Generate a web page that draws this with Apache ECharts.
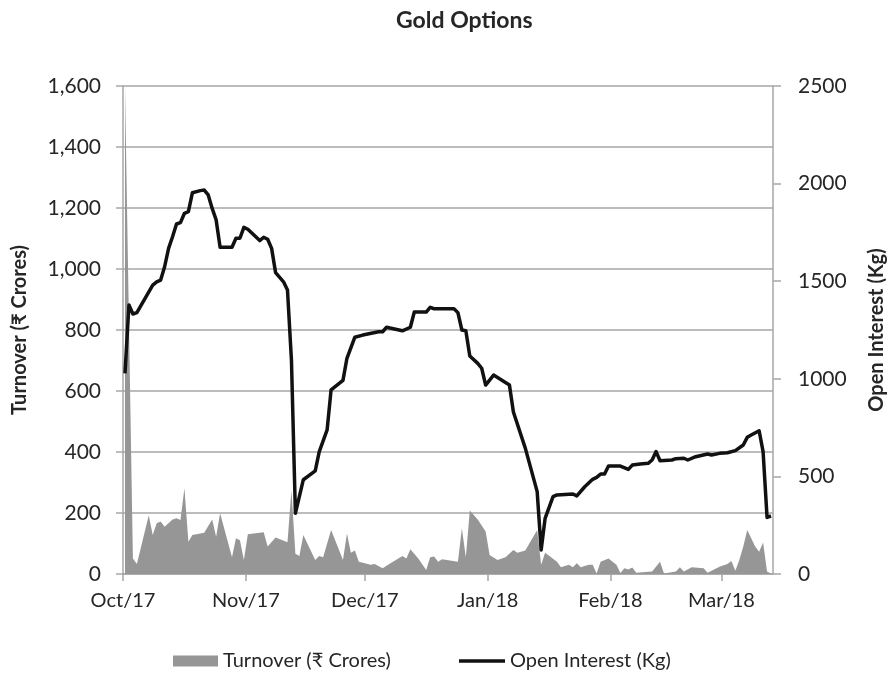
<!DOCTYPE html>
<html>
<head>
<meta charset="utf-8">
<script src="https://cdn.jsdelivr.net/npm/echarts@6/dist/echarts.min.js"></script>
<style>
  html, body { margin: 0; padding: 0; background: #fff; }
  #chart { width: 895px; height: 675px; }
</style>
</head>
<body>
<div id="chart"></div>
<script>
// open interest (Kg), right axis
var oiDates = [
  '2017-10-03','2017-10-04','2017-10-05','2017-10-06','2017-10-10','2017-10-11','2017-10-12','2017-10-13',
  '2017-10-14','2017-10-15','2017-10-16','2017-10-17','2017-10-18','2017-10-19','2017-10-20','2017-10-22',
  '2017-10-23','2017-10-24','2017-10-25','2017-10-26','2017-10-27','2017-10-30','2017-10-31','2017-11-01',
  '2017-11-02','2017-11-03','2017-11-06','2017-11-07','2017-11-08','2017-11-09','2017-11-10','2017-11-12',
  '2017-11-13','2017-11-14','2017-11-15','2017-11-17','2017-11-20','2017-11-21','2017-11-23','2017-11-24',
  '2017-11-27','2017-11-28','2017-11-30','2017-12-02','2017-12-06','2017-12-07','2017-12-08','2017-12-10',
  '2017-12-12','2017-12-14','2017-12-15','2017-12-18','2017-12-19','2017-12-20','2017-12-25','2017-12-26',
  '2017-12-27','2017-12-28','2017-12-29','2017-12-31','2018-01-01','2018-01-02','2018-01-04','2018-01-08',
  '2018-01-09','2018-01-12','2018-01-15','2018-01-16','2018-01-17','2018-01-19','2018-01-20','2018-01-24',
  '2018-01-25','2018-01-27','2018-01-29','2018-01-30','2018-01-31','2018-02-01','2018-02-02','2018-02-05',
  '2018-02-07','2018-02-08','2018-02-10','2018-02-12','2018-02-13','2018-02-14','2018-02-15','2018-02-18',
  '2018-02-19','2018-02-21','2018-02-22','2018-02-24','2018-02-27','2018-02-28','2018-03-02','2018-03-04',
  '2018-03-06','2018-03-08','2018-03-09','2018-03-10','2018-03-12','2018-03-13','2018-03-14','2018-03-15'
];
var oiValues = [
  1028, 1378, 1332, 1339, 1480, 1497, 1506, 1574,
  1668, 1728, 1793, 1800, 1848, 1856, 1953, 1964,
  1967, 1942, 1873, 1814, 1674, 1674, 1720, 1720,
  1776, 1766, 1708, 1725, 1715, 1668, 1544, 1497,
  1455, 1096, 311, 483, 528, 626, 738, 943,
  992, 1105, 1213, 1224, 1241, 1241, 1264, 1255,
  1246, 1264, 1342, 1342, 1366, 1359, 1359, 1339,
  1250, 1246, 1117, 1079, 1054, 968, 1019, 968,
  830, 645, 422, 123, 285, 396, 405, 410,
  400, 447, 485, 495, 512, 512, 553, 553,
  536, 558, 563, 567, 584, 627, 580, 584,
  591, 593, 584, 601, 615, 610, 618, 621,
  632, 661, 700, 712, 734, 627, 290, 297
];

// turnover (Rs crores), left axis
var tvDates = [
  '2017-10-03','2017-10-05','2017-10-06','2017-10-09','2017-10-10','2017-10-11','2017-10-12','2017-10-13',
  '2017-10-15','2017-10-16','2017-10-17','2017-10-18','2017-10-19','2017-10-20','2017-10-23','2017-10-25',
  '2017-10-26','2017-10-27','2017-10-30','2017-10-31','2017-11-01','2017-11-02','2017-11-03','2017-11-07',
  '2017-11-08','2017-11-10','2017-11-13','2017-11-14','2017-11-15','2017-11-16','2017-11-17','2017-11-20',
  '2017-11-21','2017-11-22','2017-11-24','2017-11-27','2017-11-28','2017-11-29','2017-11-30','2017-12-01',
  '2017-12-04','2017-12-05','2017-12-07','2017-12-09','2017-12-12','2017-12-13','2017-12-14','2017-12-16',
  '2017-12-18','2017-12-19','2017-12-20','2017-12-21','2017-12-22','2017-12-24','2017-12-26','2017-12-27',
  '2017-12-28','2017-12-29','2017-12-31','2018-01-02','2018-01-03','2018-01-05','2018-01-07','2018-01-09',
  '2018-01-10','2018-01-12','2018-01-15','2018-01-16','2018-01-17','2018-01-20','2018-01-21','2018-01-23',
  '2018-01-24','2018-01-25','2018-01-26','2018-01-28','2018-01-29','2018-01-30','2018-01-31','2018-02-02',
  '2018-02-04','2018-02-05','2018-02-06','2018-02-07','2018-02-08','2018-02-09','2018-02-13','2018-02-15',
  '2018-02-16','2018-02-19','2018-02-20','2018-02-21','2018-02-23','2018-02-26','2018-02-27','2018-03-02',
  '2018-03-04','2018-03-05','2018-03-06','2018-03-07','2018-03-08','2018-03-09','2018-03-11','2018-03-12',
  '2018-03-13','2018-03-14','2018-03-15'
];
var tvValues = [
  1600, 51, 33, 193, 128, 166, 172, 155,
  179, 183, 177, 281, 106, 128, 135, 179,
  122, 199, 55, 117, 111, 46, 130, 137,
  90, 120, 104, 275, 66, 59, 128, 46,
  59, 55, 144, 46, 133, 70, 77, 40,
  30, 33, 19, 35, 59, 51, 81, 51,
  13, 55, 57, 40, 48, 44, 40, 150,
  55, 208, 179, 139, 62, 46, 55, 79,
  70, 77, 144, 30, 70, 40, 22, 30,
  22, 35, 22, 30, 30, 2, 40, 51,
  30, 3, 19, 15, 21, 4, 8, 40,
  2, 8, 22, 8, 22, 19, 4, 24,
  33, 43, 11, 46, 90, 144, 90, 73,
  103, 8, 2
];

// month ticks on the date axis
var tickDates = [[2017, 9, 2], [2017, 10, 2], [2017, 11, 2], [2018, 0, 2], [2018, 1, 2], [2018, 2, 2]];
var tickLabels = ['Oct/17', 'Nov/17', 'Dec/17', 'Jan/18', 'Feb/18', 'Mar/18'];

var FONT = 'Lato, "DejaVu Sans", sans-serif';
var GRAY = '#a6a6a6';
var TEXT = '#262626';

var tickValues = tickDates.map(function (d) { return new Date(d[0], d[1], d[2], 12).getTime(); });
var axisMin = tickValues[0];
var axisMax = new Date(2018, 2, 15, 12).getTime();

function toTime(s) {
  var p = s.split('-');
  return new Date(+p[0], +p[1] - 1, +p[2]).getTime();
}
function pairs(dates, values) {
  return dates.map(function (d, i) { return [toTime(d), values[i]]; });
}

var myChart = echarts.init(document.getElementById('chart'));

var legendText = { fontFamily: FONT, fontSize: 20, color: TEXT };

var option = {
  backgroundColor: '#fff',
  animation: false,
  title: {
    text: 'Gold Options',
    left: 391,
    top: 4,
    textStyle: { fontFamily: FONT, fontSize: 23, fontWeight: 'bold', color: TEXT }
  },
  grid: { left: 123, right: 115, top: 86, bottom: 101 },
  legend: [
    {
      left: 168,
      top: 646,
      itemWidth: 45,
      itemHeight: 11,
      icon: 'rect',
      textStyle: legendText,
      data: ['Turnover (₹ Crores)']
    },
    {
      left: 454,
      top: 646,
      itemWidth: 46,
      itemHeight: 3.5,
      icon: 'rect',
      textStyle: legendText,
      data: ['Open Interest (Kg)']
    }
  ],
  xAxis: {
    type: 'value',
    min: axisMin,
    max: axisMax,
    axisLine: { show: true, lineStyle: { color: GRAY, width: 1.5 } },
    axisTick: { show: true, length: 7, customValues: tickValues, lineStyle: { color: GRAY, width: 1.5 } },
    axisLabel: {
      customValues: tickValues,
      margin: 17,
      fontFamily: FONT,
      fontSize: 20,
      color: TEXT,
      formatter: function (v) {
        var i = tickValues.indexOf(v);
        return i >= 0 ? tickLabels[i] : '';
      }
    },
    splitLine: { show: false }
  },
  yAxis: [
    {
      type: 'value',
      min: 0,
      max: 1600,
      interval: 200,
      name: 'Turnover (₹ Crores)',
      nameLocation: 'middle',
      nameRotate: 90,
      nameGap: 93,
      nameTextStyle: { fontFamily: FONT, fontSize: 20, fontWeight: 'bold', color: TEXT },
      axisLine: { show: true, lineStyle: { color: GRAY, width: 1.5 } },
      axisTick: { show: true, length: 7, lineStyle: { color: GRAY, width: 1.5 } },
      axisLabel: {
        margin: 22,
        fontFamily: FONT,
        fontSize: 21,
        color: TEXT,
        formatter: function (v) { return v.toLocaleString('en-US'); }
      },
      splitLine: { show: true, lineStyle: { color: GRAY, width: 1.5 } }
    },
    {
      type: 'value',
      min: 0,
      max: 2500,
      interval: 500,
      position: 'right',
      name: 'Open Interest (Kg)',
      nameLocation: 'middle',
      nameRotate: 90,
      nameGap: 94,
      nameTextStyle: { fontFamily: FONT, fontSize: 20, fontWeight: 'bold', color: TEXT },
      axisLine: { show: true, lineStyle: { color: GRAY, width: 1.5 } },
      axisTick: { show: true, length: 8, lineStyle: { color: GRAY, width: 1.5 } },
      axisLabel: {
        margin: 25,
        fontFamily: FONT,
        fontSize: 21,
        color: TEXT,
        formatter: function (v) { return String(v); }
      },
      splitLine: { show: false }
    }
  ],
  series: [
    {
      name: 'Turnover (₹ Crores)',
      type: 'line',
      yAxisIndex: 0,
      data: pairs(tvDates, tvValues),
      symbol: 'none',
      color: '#969696',
      lineStyle: { width: 0 },
      areaStyle: { color: '#969696', opacity: 1 },
      z: 2
    },
    {
      name: 'Open Interest (Kg)',
      type: 'line',
      yAxisIndex: 1,
      data: pairs(oiDates, oiValues),
      symbol: 'none',
      color: '#111',
      lineStyle: { color: '#111', width: 3.5, join: 'round' },
      z: 3
    }
  ]
};

myChart.setOption(option);
</script>
</body>
</html>
